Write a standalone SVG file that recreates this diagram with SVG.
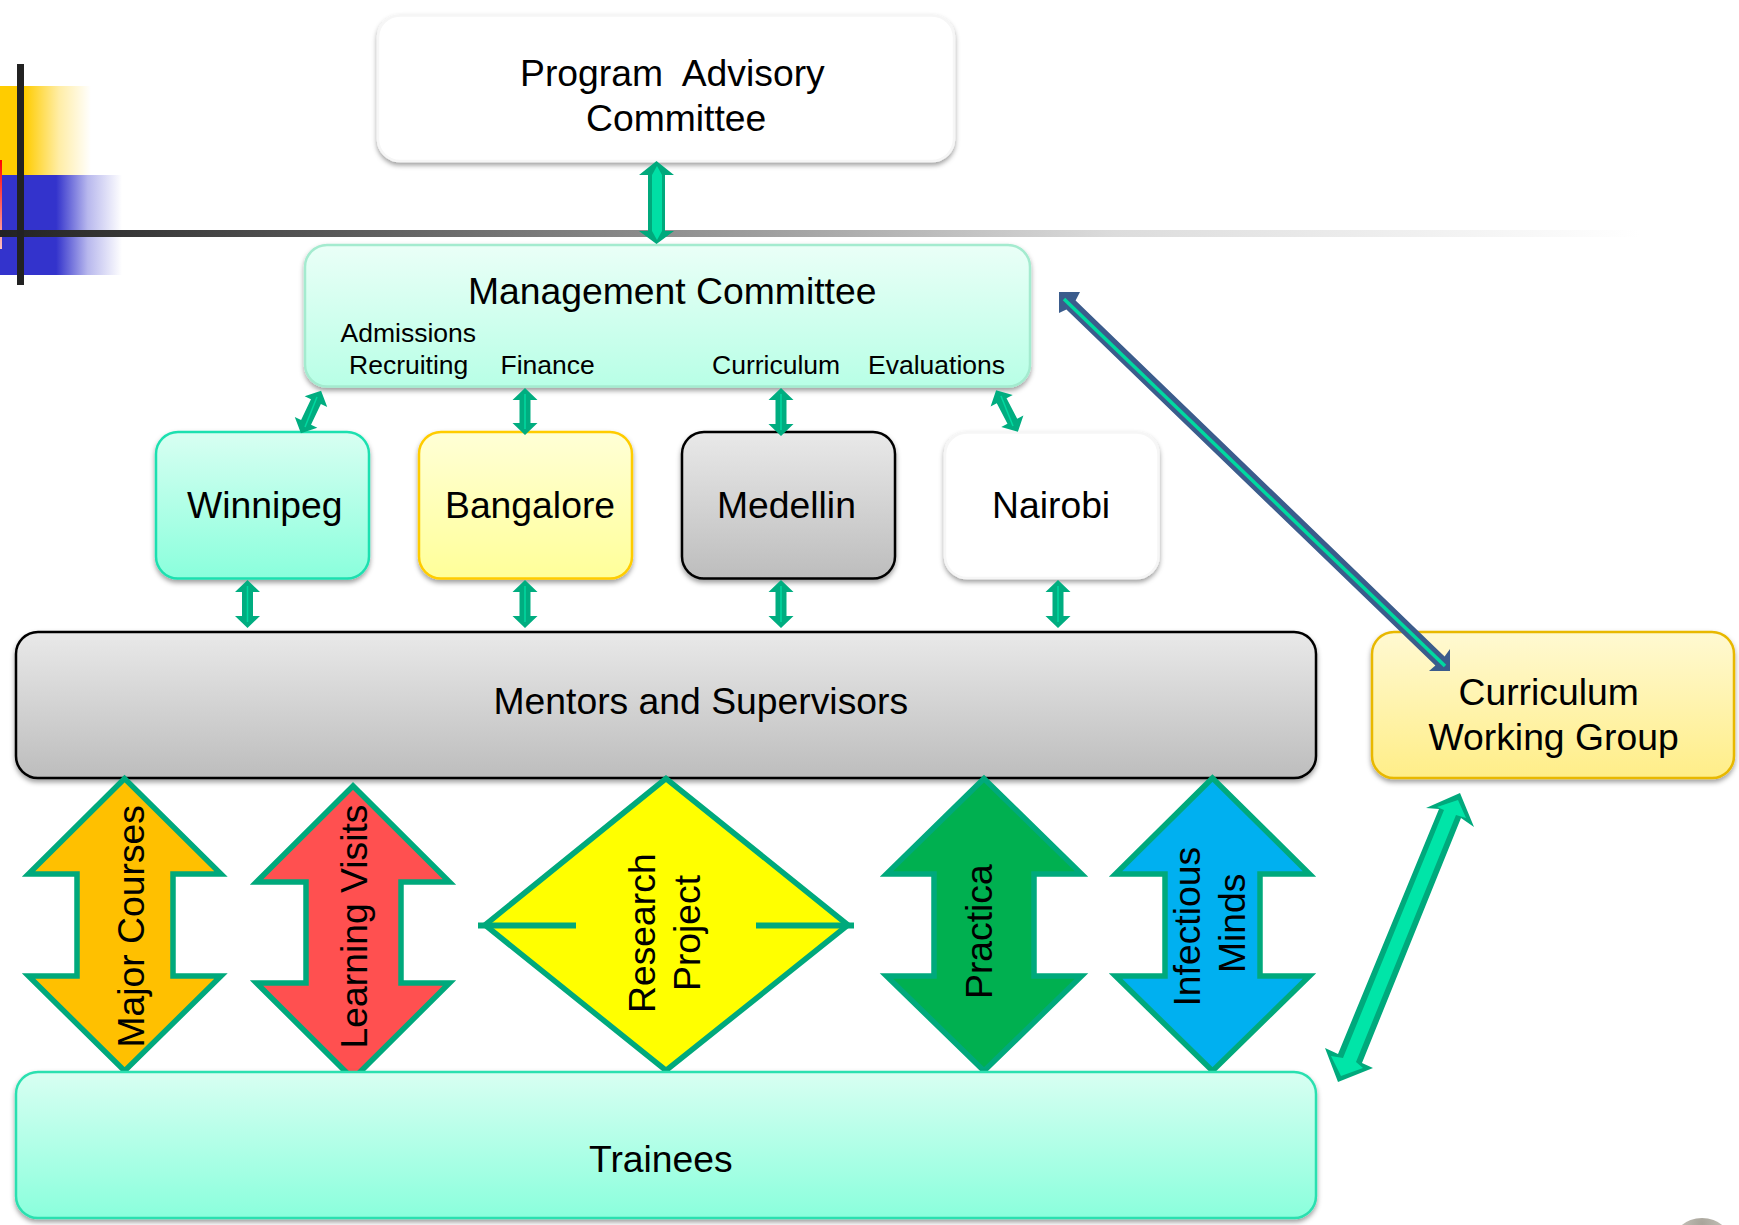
<svg xmlns="http://www.w3.org/2000/svg" width="1739" height="1225" viewBox="0 0 1739 1225">
<style>
text{font-family:"Liberation Sans",Arial,sans-serif;fill:#000;font-size:37.300px}
.s{font-size:26.500px}
.box{filter:url(#sh);stroke-width:2.500}
.big{stroke:#00A97C;stroke-width:5.500;stroke-linejoin:miter;stroke-miterlimit:8}
.c{fill:#00AD80}
</style>
<defs>
<filter id="sh" x="-5%" y="-10%" width="110%" height="125%"><feDropShadow dx="0" dy="3" stdDeviation="2.500" flood-color="#000" flood-opacity=".38"/></filter>
<linearGradient id="gM" x1="0" y1="0" x2="0" y2="1"><stop offset="0" stop-color="#EAFFF7"/><stop offset="1" stop-color="#B8FFE6"/></linearGradient>
<linearGradient id="gT" x1="0" y1="0" x2="0" y2="1"><stop offset="0" stop-color="#D8FFF2"/><stop offset="1" stop-color="#8AFFDC"/></linearGradient>
<linearGradient id="gB" x1="0" y1="0" x2="0" y2="1"><stop offset="0" stop-color="#FFFFD6"/><stop offset="1" stop-color="#FFFF99"/></linearGradient>
<linearGradient id="gG" x1="0" y1="0" x2="0" y2="1"><stop offset="0" stop-color="#E9E9E9"/><stop offset="1" stop-color="#BDBDBD"/></linearGradient>
<linearGradient id="gC" x1="0" y1="0" x2="0" y2="1"><stop offset="0" stop-color="#FFF9D2"/><stop offset="1" stop-color="#FFEE88"/></linearGradient>
<linearGradient id="gY" x1="0" y1="0" x2="1" y2="0"><stop offset=".27" stop-color="#FFCC00"/><stop offset=".65" stop-color="#FFCC00" stop-opacity=".35"/><stop offset="1" stop-color="#FFCC00" stop-opacity="0"/></linearGradient>
<linearGradient id="gU" x1="0" y1="0" x2="1" y2="0"><stop offset=".46" stop-color="#3333CC"/><stop offset=".72" stop-color="#3333CC" stop-opacity=".35"/><stop offset="1" stop-color="#3333CC" stop-opacity="0"/></linearGradient>
<linearGradient id="gR" x1="0" y1="0" x2="0" y2="1"><stop offset="0" stop-color="#FF0000"/><stop offset="1" stop-color="#FFC0C0"/></linearGradient>
<linearGradient id="gL" x1="0" y1="0" x2="1" y2="0"><stop offset="0" stop-color="#222"/><stop offset=".47" stop-color="#A0A0A0"/><stop offset=".68" stop-color="#DCDCDC"/><stop offset="1" stop-color="#fff"/></linearGradient>
<radialGradient id="gP" cx=".5" cy=".1" r=".7"><stop offset="0" stop-color="#A8A49A"/><stop offset="1" stop-color="#DAD8D0"/></radialGradient>
</defs>

<g id="banner">
<rect x="0" y="86" width="91" height="89" fill="url(#gY)"/>
<rect x="0" y="175" width="122" height="100" fill="url(#gU)"/>
<rect x="0" y="160" width="2" height="89" fill="url(#gR)"/>
<rect x="0" y="230" width="1640" height="7" fill="url(#gL)"/>
<rect x="17" y="64" width="7" height="221" fill="#222"/>
</g>
<ellipse id="photo" cx="1702" cy="1245" rx="30" ry="27" fill="url(#gP)"/>

<g id="program-advisory">
<rect class="box" x="378" y="15.500" width="576" height="145.500" rx="22" fill="#fff" stroke="#f6f6f6"/>
<text x="520" y="86" xml:space="preserve">Program  Advisory</text>
<text x="586" y="131">Committee</text>
</g>
<g id="management">
<rect class="box" x="305" y="245" width="725" height="141.500" rx="22" fill="url(#gM)" stroke="#A4EBCF"/>
<text x="468" y="304">Management Committee</text>
<text class="s" x="340.500" y="342">Admissions</text>
<text class="s" x="349" y="374">Recruiting</text>
<text class="s" x="500.500" y="374">Finance</text>
<text class="s" x="712" y="374">Curriculum</text>
<text class="s" x="868" y="374">Evaluations</text>
</g>
<g id="winnipeg">
<rect class="box" x="156" y="432" width="213" height="146.500" rx="22" fill="url(#gT)" stroke="#1FE0B0"/>
<text x="187" y="518">Winnipeg</text>
</g>
<g id="bangalore">
<rect class="box" x="419" y="432" width="213" height="146.500" rx="22" fill="url(#gB)" stroke="#FFCC00"/>
<text x="445" y="518">Bangalore</text>
</g>
<g id="medellin">
<rect class="box" x="682" y="432" width="213" height="146.500" rx="22" fill="url(#gG)" stroke="#000"/>
<text x="717" y="518">Medellin</text>
</g>
<g id="nairobi">
<rect class="box" x="945" y="432.500" width="213.500" height="145.500" rx="22" fill="#fff" stroke="#f6f6f6"/>
<text x="992" y="518">Nairobi</text>
</g>
<g id="mentors">
<rect class="box" x="16" y="632" width="1300" height="146" rx="22" fill="url(#gG)" stroke="#000"/>
<text x="493.500" y="714">Mentors and Supervisors</text>
</g>

<g id="major-courses">
<path class="big" fill="#FFC000" d="M124.600 778.500L28.500 874H77V976H28.500L124.600 1071L221 976H173V874H221Z"/>
<text transform="translate(143.500 1047.500) rotate(-90)">Major Courses</text>
</g>
<g id="learning-visits">
<path class="big" fill="#FF5050" d="M353 786L256.500 882H306V983H256.500L353 1079L449.500 983H401V882H449.500Z"/>
<text transform="translate(367 1048.500) rotate(-90)">Learning Visits</text>
</g>
<g id="research-project">
<path class="big" fill="#FFFF00" d="M666 778.500L485 925L666 1070.500L848 925Z"/>
<path d="M478 925.500H576M756 925.500H854" stroke="#00A97C" stroke-width="6" fill="none"/>
<text transform="translate(654.500 1013) rotate(-90)">Research</text>
<text transform="translate(699.500 991) rotate(-90)">Project</text>
</g>
<g id="practica">
<path class="big" fill="#00B050" d="M984 778.500L886.500 874H934V976H886.500L984 1071L1081.500 976H1034V874H1081.500Z"/>
<text transform="translate(992 999) rotate(-90)">Practica</text>
</g>
<g id="infectious-minds">
<path class="big" fill="#00B0F0" d="M1212.500 778L1115.500 874H1165V976H1115.500L1212.500 1071L1309.500 976H1260V874H1309.500Z"/>
<text transform="translate(1200 1006.500) rotate(-90)">Infectious</text>
<text transform="translate(1245 973) rotate(-90)">Minds</text>
</g>

<g id="trainees">
<rect class="box" x="16" y="1072" width="1300" height="146" rx="22" fill="url(#gT)" stroke="#2CE0B0"/>
<text x="589" y="1172">Trainees</text>
</g>
<g id="curriculum-working-group">
<rect class="box" x="1372" y="632" width="362" height="146" rx="22" fill="url(#gC)" stroke="#E8B800"/>
<text x="1458.500" y="704.500">Curriculum</text>
<text x="1428.500" y="749.500">Working Group</text>
</g>

<g id="connectors">
<path d="M656.500 161L674 175H665V231H674L656.500 244L639 231H648V175H639Z" fill="#00A97C"/>
<path d="M657 166L662 175V231L657 240L652 231V175Z" fill="#00DFA5"/>

<g class="c">
<path d="M525 388L537.500 400H530.500V423H537.500L525 435L512.500 423H519.500V400H512.500Z"/>
<path d="M781 388L793.500 400H786.500V424H793.500L781 436L768.500 424H775.500V400H768.500Z"/>
<path d="M247.500 580L260 592H253V616H260L247.500 628L235 616H242V592H235Z"/>
<path d="M525 580L537.500 592H530.500V616H537.500L525 628L512.500 616H519.500V592H512.500Z"/>
<path d="M781 580L793.500 592H786.500V616H793.500L781 628L768.500 616H775.500V592H768.500Z"/>
<path d="M1058 580L1070.500 592H1063.500V616H1070.500L1058 628L1045.500 616H1052.500V592H1045.500Z"/>
<path transform="translate(311 412) rotate(25.400)" d="M0 -23.500L12.500 -11.500H5.500V11.500H12.500L0 23.500L-12.500 11.500H-5.500V-11.500H-12.500Z"/>
<path transform="translate(1007 411) rotate(-27.600)" d="M0 -23.500L12.500 -11.500H5.500V11.500H12.500L0 23.500L-12.500 11.500H-5.500V-11.500H-12.500Z"/>
</g>
<g stroke="#00D9A0" stroke-width="1.500" fill="none">
<path d="M525 394V429M781 394V430M247.500 586V622M525 586V622M781 586V622M1058 586V622M317 397L305 427M1001 396L1013 426"/>
</g>

<path d="M1059 292H1080L1075.600 300.400L1444.600 656.400L1450 649V671H1429L1435.400 665.600L1066.400 309.600L1059 313Z" fill="#3B5C8C"/>
<path d="M1064 299L1445 666" stroke="#00D9A0" stroke-width="3.500" fill="none"/>

<path d="M1460 793L1474 827L1461 818L1362 1063L1373 1068L1338 1082L1325 1048L1338 1054L1439 809L1426 808Z" fill="#00A97C"/>
<path d="M1458 800L1466 818L1456 815L1356 1062L1363 1068L1341 1076L1331 1056L1343 1058L1444 810L1437 807Z" fill="#00E5A8"/>
</g>
</svg>
